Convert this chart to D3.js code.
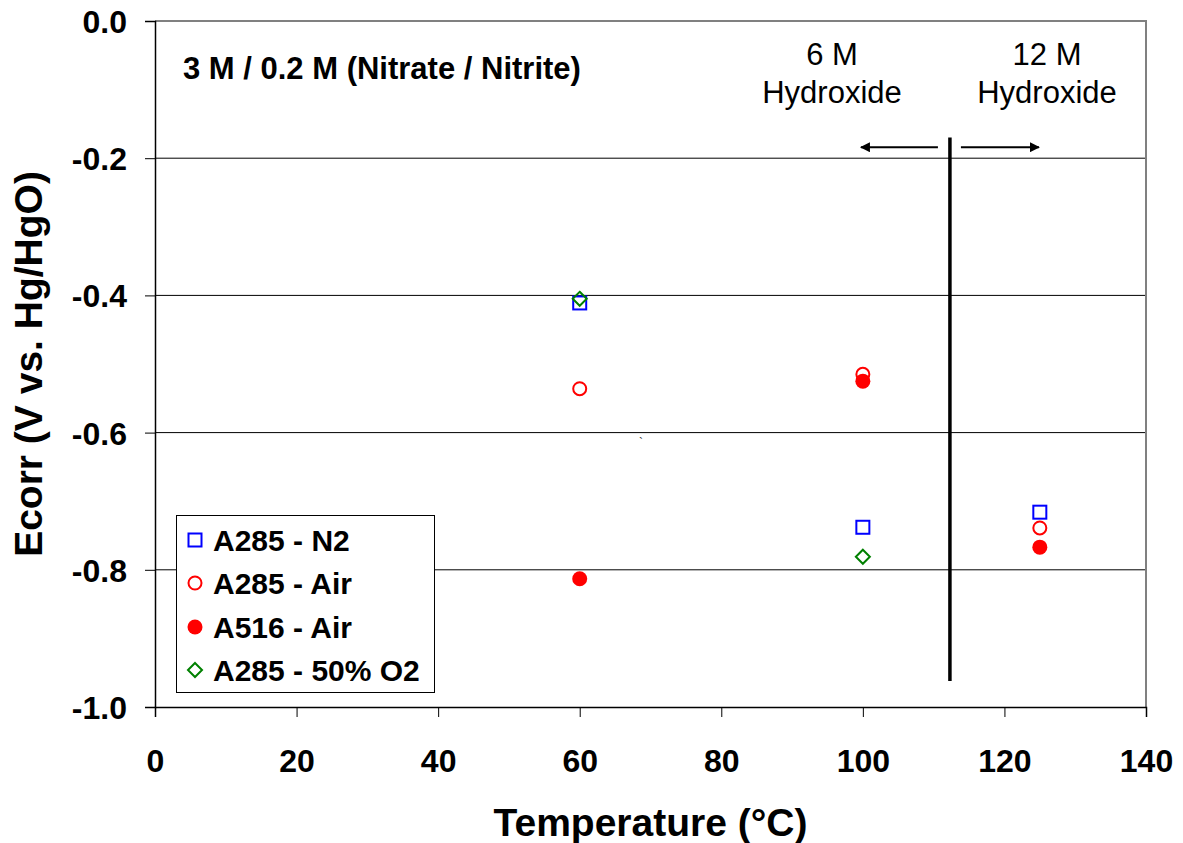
<!DOCTYPE html>
<html>
<head>
<meta charset="utf-8">
<script src="https://cdn.jsdelivr.net/npm/d3@7"></script>
<style>
  body { margin: 0; background: #fff; }
  svg { display: block; font-family: Arial, "Liberation Sans", sans-serif; }
</style>
</head>
<body>
<svg id="chart" width="1183" height="843"></svg>
<script>
// Corrosion potential vs. temperature, 3 M / 0.2 M nitrate / nitrite
const xTicks = [0, 20, 40, 60, 80, 100, 120, 140];
const yTicks = [0, -0.2, -0.4, -0.6, -0.8, -1.0];
const gridValues = [-0.2, -0.4, -0.6, -0.8];

const a285N2Temp = [60, 100, 125];
const a285N2Ecorr = [-0.411, -0.738, -0.716];

const a285AirTemp = [60, 100, 125];
const a285AirEcorr = [-0.536, -0.515, -0.739];

const a516AirTemp = [60, 100, 125];
const a516AirEcorr = [-0.813, -0.525, -0.767];

const a285O2Temp = [60, 100];
const a285O2Ecorr = [-0.405, -0.781];

const seriesNames = ["A285 - N2", "A285 - Air", "A516 - Air", "A285 - 50% O2"];

// Hydroxide boundary marker
const dividerTemp = 112.3;
const dividerRange = [-0.17, -0.962];

const svg = d3.select("#chart");
const margin = { left: 155, top: 21, right: 1146, bottom: 707 };

const x = d3.scaleLinear().domain([0, 140]).range([margin.left, margin.right]);
const y = d3.scaleLinear().domain([-1, 0]).range([margin.bottom, margin.top]);

// gridlines
svg.append("g").selectAll("line").data(gridValues).join("line")
  .attr("x1", margin.left).attr("x2", margin.right)
  .attr("y1", d => y(d)).attr("y2", d => y(d))
  .attr("stroke", "#000").attr("stroke-width", 1);

// plot frame (top and right)
svg.append("path")
  .attr("d", `M${margin.left},${margin.top}H${margin.right}V${margin.bottom}`)
  .attr("fill", "none").attr("stroke", "#808080").attr("stroke-width", 2);

// axes
const xAxis = svg.append("g").attr("transform", `translate(0,${margin.bottom})`)
  .call(d3.axisBottom(x).tickValues(xTicks).tickSize(10).tickFormat(d3.format("d")));
const yAxis = svg.append("g").attr("transform", `translate(${margin.left},0)`)
  .call(d3.axisLeft(y).tickValues(yTicks).tickSize(10).tickPadding(18).tickFormat(d3.format(".1f")));

[xAxis, yAxis].forEach(g => {
  g.select(".domain").attr("stroke", "#000").attr("stroke-width", 1.5);
  g.selectAll(".tick line").attr("stroke", "#000").attr("stroke-width", 1);
  g.selectAll("text").attr("font-family", "Arial, 'Liberation Sans', sans-serif")
    .attr("font-size", 32).attr("font-weight", "bold").attr("fill", "#000");
});
yAxis.selectAll("text").text(d => d3.format(".1f")(d).replace("−", "-")).attr("dy", "0.36em");
xAxis.selectAll("text").attr("y", 65).attr("dy", 0);

// axis titles
svg.append("text")
  .attr("x", (margin.left + margin.right) / 2).attr("y", 836)
  .attr("text-anchor", "middle").attr("font-size", 39).attr("font-weight", "bold")
  .text("Temperature (°C)");
svg.append("text")
  .attr("transform", `translate(42,${(margin.top + margin.bottom) / 2}) rotate(-90)`)
  .attr("text-anchor", "middle").attr("font-size", 39).attr("font-weight", "bold")
  .text("Ecorr (V vs. Hg/HgO)");

// annotations
svg.append("text").attr("x", 183).attr("y", 79)
  .attr("font-size", 31).attr("font-weight", "bold")
  .text("3 M / 0.2 M (Nitrate / Nitrite)");

const ann = svg.append("g").attr("font-size", 31).attr("text-anchor", "middle");
ann.append("text").attr("x", 832).attr("y", 65).text("6 M");
ann.append("text").attr("x", 832).attr("y", 103).text("Hydroxide");
ann.append("text").attr("x", 1047).attr("y", 65).text("12 M");
ann.append("text").attr("x", 1047).attr("y", 103).text("Hydroxide");

svg.append("line")
  .attr("x1", x(dividerTemp)).attr("x2", x(dividerTemp))
  .attr("y1", y(dividerRange[0])).attr("y2", y(dividerRange[1]))
  .attr("stroke", "#000").attr("stroke-width", 3.5);

const defs = svg.append("defs");
defs.append("marker").attr("id", "arrow").attr("viewBox", "0 0 10 10")
  .attr("refX", 9).attr("refY", 5).attr("markerWidth", 10).attr("markerHeight", 10)
  .attr("markerUnits", "userSpaceOnUse").attr("orient", "auto")
  .append("path").attr("d", "M0,0L10,5L0,10Z").attr("fill", "#000");

const arrowY = y(-0.184);
svg.append("line").attr("x1", x(dividerTemp) - 12).attr("x2", x(dividerTemp) - 89)
  .attr("y1", arrowY).attr("y2", arrowY).attr("stroke", "#000").attr("stroke-width", 2)
  .attr("marker-end", "url(#arrow)");
svg.append("line").attr("x1", x(dividerTemp) + 11).attr("x2", x(dividerTemp) + 89)
  .attr("y1", arrowY).attr("y2", arrowY).attr("stroke", "#000").attr("stroke-width", 2)
  .attr("marker-end", "url(#arrow)");

svg.append("text").attr("x", 639).attr("y", 447).attr("font-size", 12).attr("fill", "#333").text("`");

// markers
const zip = (xs, ys) => xs.map((t, i) => ({ t, v: ys[i] }));

function drawSquare(g, cx, cy, s, color) {
  g.append("rect").attr("x", cx - s / 2).attr("y", cy - s / 2).attr("width", s).attr("height", s)
    .attr("fill", "none").attr("stroke", color).attr("stroke-width", 2);
}
function drawCircle(g, cx, cy, r, color, filled) {
  g.append("circle").attr("cx", cx).attr("cy", cy).attr("r", r)
    .attr("fill", filled ? color : "none").attr("stroke", color).attr("stroke-width", filled ? 0 : 2);
}
function drawDiamond(g, cx, cy, r, color) {
  g.append("path").attr("d", `M${cx},${cy - r}L${cx + r},${cy}L${cx},${cy + r}L${cx - r},${cy}Z`)
    .attr("fill", "none").attr("stroke", color).attr("stroke-width", 2);
}

const marks = svg.append("g");
zip(a285N2Temp, a285N2Ecorr).forEach(d => drawSquare(marks, x(d.t), y(d.v), 13, "#0000ff"));
zip(a285AirTemp, a285AirEcorr).forEach(d => drawCircle(marks, x(d.t), y(d.v), 6.5, "#ff0000", false));
zip(a516AirTemp, a516AirEcorr).forEach(d => drawCircle(marks, x(d.t), y(d.v), 7.5, "#ff0000", true));
zip(a285O2Temp, a285O2Ecorr).forEach(d => drawDiamond(marks, x(d.t), y(d.v), 7, "#008000"));

// legend
const legend = svg.append("g");
legend.append("rect").attr("x", 176.5).attr("y", 515.5).attr("width", 258).attr("height", 177)
  .attr("fill", "#fff").attr("stroke", "#000").attr("stroke-width", 1);
const legY = [540, 583, 627, 670];
seriesNames.forEach((name, i) => {
  const cy = legY[i], cx = 195;
  if (i === 0) drawSquare(legend, cx, cy, 13, "#0000ff");
  if (i === 1) drawCircle(legend, cx, cy, 6.5, "#ff0000", false);
  if (i === 2) drawCircle(legend, cx, cy, 7.5, "#ff0000", true);
  if (i === 3) drawDiamond(legend, cx, cy, 7, "#008000");
  legend.append("text").attr("x", 213).attr("y", cy + 11)
    .attr("font-size", 30).attr("font-weight", "bold").text(name);
});
</script>
</body>
</html>
